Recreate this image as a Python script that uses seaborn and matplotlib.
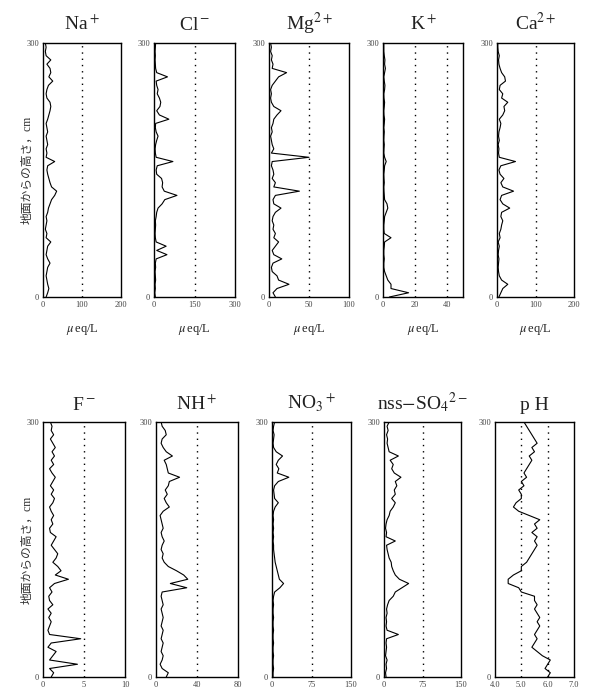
import numpy as np
import pandas as pd
import matplotlib
matplotlib.use("Agg")
import matplotlib.pyplot as plt
import seaborn as sns

# heights above ground (cm), bottom to top, 5 cm steps
HEIGHTS = np.arange(0, 301, 5)

NA = [8, 12, 15, 12, 10, 8, 10, 12, 18, 12, 8, 10, 12, 20, 8, 10, 6, 8, 10, 8,
      12, 14, 18, 22, 30, 35, 22, 18, 15, 12, 10, 12, 30, 8, 10, 8, 12, 10, 8, 12,
      10, 8, 12, 15, 18, 20, 18, 10, 8, 10, 14, 25, 15, 20, 18, 10, 20, 8, 6, 8, 6]
CL = [5, 3, 5, 4, 6, 5, 4, 6, 5, 8, 48, 10, 45, 8, 5, 4, 5, 6, 5, 8,
      10, 15, 30, 40, 85, 38, 30, 32, 28, 10, 8, 12, 70, 8, 5, 4, 6, 10, 15, 8,
      5, 6, 55, 20, 10, 22, 25, 20, 12, 15, 10, 8, 50, 10, 6, 5, 4, 5, 4, 5, 6]
MG = [8, 5, 10, 25, 12, 10, 4, 3, 5, 16, 6, 4, 8, 12, 6, 8, 5, 6, 4, 5,
      8, 15, 6, 5, 8, 38, 6, 8, 4, 6, 5, 3, 4, 50, 3, 6, 4, 3, 2, 4,
      3, 5, 6, 10, 15, 6, 3, 2, 3, 2, 4, 8, 12, 22, 4, 5, 3, 4, 2, 3, 2]
K = [4, 16, 5, 5, 3, 2, 1, 0.5, 0.5, 0.8, 0.5, 0.5, 0.8, 1, 5, 0.8, 0.5, 0.5, 0.8, 1,
     2, 3, 2.5, 1, 0.8, 0.6, 0.5, 0.8, 0.6, 0.5, 0.8, 1, 2, 1, 0.5, 0.6, 0.8, 0.5, 0.6, 0.8,
     0.5, 0.8, 1, 0.6, 0.5, 0.8, 1, 0.6, 0.5, 1, 1.2, 0.8, 0.5, 1, 1.5, 1, 1.2, 0.8, 0.5, 0.5, 0.5]
CA = [5, 10, 15, 28, 12, 6, 4, 3, 4, 5, 3, 4, 6, 3, 8, 6, 10, 12, 15, 10,
      12, 33, 15, 8, 12, 43, 15, 10, 18, 8, 5, 10, 48, 6, 4, 5, 3, 6, 4, 5,
      8, 10, 6, 15, 20, 18, 28, 12, 15, 6, 8, 22, 20, 12, 8, 5, 4, 6, 3, 2, 2]
F = [1.0, 1.3, 0.8, 4.2, 0.8, 1.2, 1.6, 0.6, 1.0, 4.6, 0.8, 0.6, 0.8, 1.0, 0.7, 1.0, 0.6, 1.2, 0.8, 0.7,
     1.1, 0.8, 1.4, 3.1, 1.5, 2.2, 1.8, 1.2, 1.6, 1.8, 1.4, 1.0, 1.3, 1.6, 0.9, 0.8, 1.2, 1.0, 1.3, 1.0,
     0.8, 1.2, 1.4, 1.0, 1.3, 0.9, 1.2, 1.5, 1.1, 0.8, 1.3, 1.0, 1.4, 1.1, 1.5, 1.2, 0.9, 1.3, 1.0, 1.1, 0.9]
NH = [10, 12, 6, 4, 6, 7, 5, 6, 7, 5, 6, 7, 5, 6, 7, 6, 5, 7, 6, 5,
      6, 30, 14, 31, 27, 20, 12, 8, 6, 7, 5, 6, 8, 6, 5, 7, 6, 5, 4, 7,
      13, 10, 8, 11, 9, 12, 13, 23, 12, 11, 10, 8, 16, 10, 7, 5, 6, 10, 9, 6, 5]
NO3 = [2, 2, 3, 2, 2, 3, 2, 2, 3, 2, 2, 3, 2, 2, 3, 2, 2, 3, 2, 3,
       5, 15, 22, 14, 12, 10, 8, 6, 5, 4, 3, 3, 2, 3, 2, 3, 2, 3, 2, 3,
       6, 12, 5, 4, 3, 5, 12, 32, 10, 13, 8, 12, 20, 8, 3, 2, 3, 4, 2, 3, 5]
SO4 = [4, 3, 5, 4, 6, 3, 4, 5, 4, 5, 28, 6, 4, 5, 4, 6, 5, 7, 10, 18,
       22, 35, 48, 30, 22, 18, 15, 14, 10, 8, 6, 5, 22, 4, 5, 3, 4, 6, 10, 12,
       18, 22, 15, 22, 20, 25, 22, 33, 20, 15, 18, 12, 28, 10, 8, 6, 7, 5, 8, 6, 10]
PH = [6.0, 6.1, 5.9, 6.0, 6.1, 5.8, 5.6, 5.4, 5.5, 5.6, 5.5, 5.6, 5.7, 5.6, 5.7, 5.6, 5.5, 5.6, 5.5, 5.5,
      5.0, 4.9, 4.5, 4.5, 4.7, 5.0, 5.0, 5.2, 5.3, 5.4, 5.5, 5.6, 5.5, 5.6, 5.4, 5.6, 5.5, 5.7, 5.3, 4.9,
      4.7, 4.8, 5.0, 5.0, 4.9, 5.1, 5.0, 5.2, 5.1, 5.2, 5.3, 5.4, 5.3, 5.5, 5.4, 5.6, 5.5, 5.4, 5.3, 5.2, 5.1]

TITLES = [r"Na$^+$", r"Cl$^-$", r"Mg$^{2+}$", r"K$^+$", r"Ca$^{2+}$",
          r"F$^-$", r"NH$^+$", r"NO$_3$$^+$", r"nss$-$SO$_4$$^{2-}$", "p H"]
SERIES = [NA, CL, MG, K, CA, F, NH, NO3, SO4, PH]
XMAX = [200, 300, 100, 50, 200, 10, 80, 150, 150, 7.0]
XMIN = [0, 0, 0, 0, 0, 0, 0, 0, 0, 4.0]
XTICKS = [[0, 100, 200], [0, 150, 300], [0, 50, 100], [0, 20, 40], [0, 100, 200],
          [0, 5, 10], [0, 40, 80], [0, 75, 150], [0, 75, 150], [4.0, 5.0, 6.0, 7.0]]
XTICKLABELS = [["0", "100", "200"], ["0", "150", "300"], ["0", "50", "100"], ["0", "20", "40"],
               ["0", "100", "200"], ["0", "5", "10"], ["0", "40", "80"], ["0", "75", "150"],
               ["0", "75", "150"], ["4.0", "5.0", "6.0", "7.0"]]
GUIDES = [[100], [150], [50], [20, 40], [100], [5], [40], [75], [75], [5.0, 6.0]]
YLABEL = "地面からの高さ，cm"
XLABEL = r"$\mu\,$eq/L"

sns.set_theme(style="white")
plt.rcParams["font.family"] = ["Liberation Serif", "Noto Sans CJK JP", "DejaVu Sans"]
plt.rcParams["mathtext.fontset"] = "stix"

W, H = 604, 695
fig = plt.figure(figsize=(W / 100, H / 100), dpi=100)

# panel boxes in pixels: left, right, top, bottom
boxes = [(43, 121, 43, 297), (154, 235, 43, 297), (269, 349, 43, 297),
         (383, 463, 43, 297), (497, 574, 43, 297),
         (43, 125, 422, 677), (156, 238, 422, 677), (272, 351, 422, 677),
         (384, 461, 422, 677), (495, 574, 422, 677)]

for i, (l, r, t, b) in enumerate(boxes):
    ax = fig.add_axes([l / W, 1 - b / H, (r - l) / W, (b - t) / H])
    df = pd.DataFrame({"value": SERIES[i], "height": HEIGHTS})
    sns.lineplot(data=df, x="value", y="height", orient="y", sort=False,
                 estimator=None, color="black", linewidth=0.8, ax=ax)
    for g in GUIDES[i]:
        ax.axvline(g, color="black", linestyle=(0, (1, 3.5)), linewidth=1.0)
    ax.set_xlim(XMIN[i], XMAX[i])
    ax.set_ylim(0, 300)
    ax.set_xticks(XTICKS[i])
    ax.set_xticklabels(XTICKLABELS[i])
    ax.set_yticks([0, 300])
    ax.set_yticklabels(["0", "300"])
    ax.tick_params(length=0, labelsize=6, colors="#444444", pad=3)
    for s in ax.spines.values():
        s.set_color("black")
        s.set_linewidth(1.0)
    ax.set_title(TITLES[i], fontsize=14, pad=9, color="#222222")
    if i < 5:
        ax.set_xlabel(XLABEL, fontsize=9, labelpad=9, color="#222222")
    else:
        ax.set_xlabel("")
    if i in (0, 5):
        ax.set_ylabel(YLABEL, fontsize=8.5, color="#333333")
        ax.yaxis.set_label_coords(-0.12, 0.5)
    else:
        ax.set_ylabel("")

fig.savefig("out.png", dpi=100)
